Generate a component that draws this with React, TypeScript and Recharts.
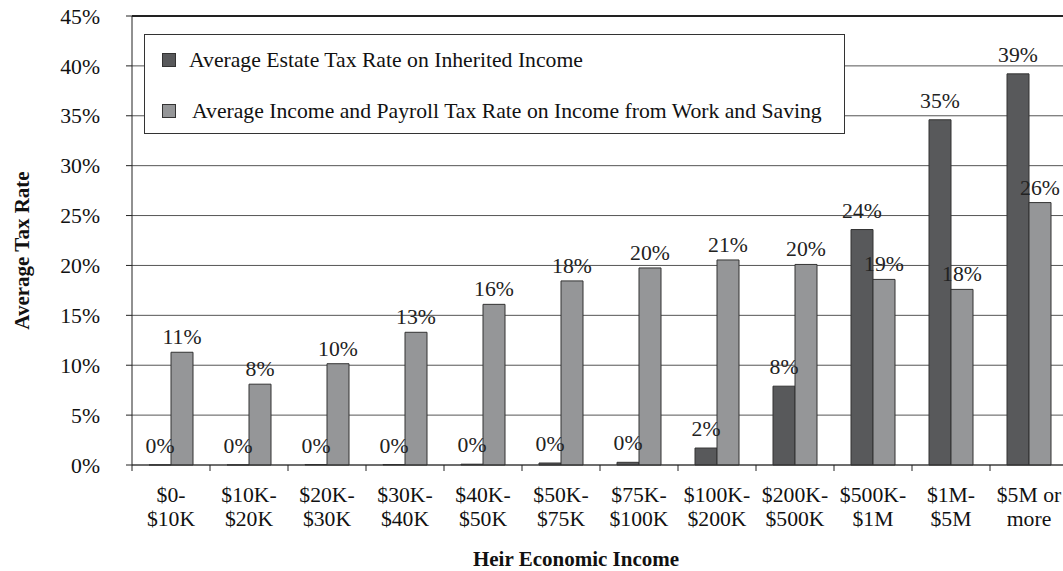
import { BarChart, Bar, XAxis, YAxis, CartesianGrid, LabelList, Legend, ReferenceLine } from 'recharts';

const categories = ['$0-$10K', '$10K-$20K', '$20K-$30K', '$30K-$40K', '$40K-$50K', '$50K-$75K', '$75K-$100K', '$100K-$200K', '$200K-$500K', '$500K-$1M', '$1M-$5M', '$5M or more'];
const tickLines = [['$0-', '$10K'], ['$10K-', '$20K'], ['$20K-', '$30K'], ['$30K-', '$40K'], ['$40K-', '$50K'], ['$50K-', '$75K'], ['$75K-', '$100K'], ['$100K-', '$200K'], ['$200K-', '$500K'], ['$500K-', '$1M'], ['$1M-', '$5M'], ['$5M or', 'more']];
const estateRate = [0.01, 0.01, 0.05, 0.05, 0.08, 0.2, 0.27, 1.7, 7.9, 23.6, 34.6, 39.2];
const incomeRate = [11.3, 8.1, 10.15, 13.3, 16.1, 18.45, 19.75, 20.55, 20.1, 18.6, 17.6, 26.3];
const yTicks = [0, 5, 10, 15, 20, 25, 30, 35, 40, 45];

const ESTATE = 'Average Estate Tax Rate on Inherited Income';
const INCOME = 'Average Income and Payroll Tax Rate on Income from Work and Saving';

const FONT = 21.7;

const data = categories.map((c, i) => ({ name: c, estate: estateRate[i], income: incomeRate[i] }));

const pct = (v: unknown) => `${Math.round(Number(v))}%`;

function CategoryTick(props: any) {
  const { x, y, payload, index } = props;
  const lines = tickLines[index] ?? [payload.value, ''];
  const left = x - (payload.offset ?? 0);
  return (
    <g>
      <line x1={left} x2={left} y1={y - 6} y2={y} stroke="#222" />
      <text x={x} y={y} textAnchor="middle" fill="#111" fontSize={FONT}>
        <tspan x={x} dy={31}>{lines[0]}</tspan>
        <tspan x={x} dy={24}>{lines[1]}</tspan>
      </text>
    </g>
  );
}

function LegendBox(props: any) {
  const items = props.payload ?? [];
  return (
    <div style={{ width: 701, height: 100, boxSizing: 'border-box', border: '1px solid #333', background: '#fff', position: 'relative' }}>
      {items.map((it: any, i: number) => (
        <div key={it.value} style={{ position: 'absolute', left: 17, top: i === 0 ? 13 : 64, height: 24, display: 'flex', alignItems: 'center', whiteSpace: 'nowrap' }}>
          <span style={{ width: 14, height: 14, boxSizing: 'border-box', border: '1px solid #333', background: it.color, display: 'inline-block' }} />
          <span style={{ marginLeft: i === 0 ? 13 : 16, fontSize: FONT, color: '#111' }}>{it.value}</span>
        </div>
      ))}
    </div>
  );
}

export default function App() {
  return (
    <div style={{ position: 'absolute', left: 0, top: 0, width: 1063, height: 571, overflow: 'hidden', background: '#fff', fontFamily: '"Liberation Serif", "Times New Roman", serif' }}>
      <BarChart width={1080} height={571} data={data} margin={{ top: 16, right: 12, bottom: 0, left: 0 }} barCategoryGap="21.8%" barGap={0}>
        <CartesianGrid vertical={false} stroke="#555" />
        <ReferenceLine y={45} stroke="#222" strokeWidth={2} />
        <XAxis dataKey="name" interval={0} height={106} tickLine={false} tickSize={6} tickMargin={0} tick={<CategoryTick />} axisLine={{ stroke: '#333' }}
          label={{
            content: ({ viewBox }: any) => (
              <text x={viewBox.x + viewBox.width / 2 - 24} y={viewBox.y + 101} textAnchor="middle" fontWeight="bold" fontSize={21} fill="#111">Heir Economic Income</text>
            ),
          }} />
        <YAxis domain={[0, 45]} ticks={yTicks} width={132} tickSize={6} tickMargin={26} tickFormatter={(v) => `${v}%`} tick={{ fill: '#111', fontSize: FONT }} axisLine={{ stroke: '#222' }} tickLine={{ stroke: '#222' }}
          label={{
            content: ({ viewBox }: any) => {
              const cx = viewBox.x + 22;
              const cy = viewBox.y + viewBox.height / 2 + 10;
              return (
                <text x={cx} y={cy} transform={`rotate(-90, ${cx}, ${cy})`} textAnchor="middle" dominantBaseline="central" fontWeight="bold" fontSize={21} fill="#111">Average Tax Rate</text>
              );
            },
          }} />
        <Legend layout="horizontal" verticalAlign="middle" content={<LegendBox />} wrapperStyle={{ left: 144, top: 34, width: 701, height: 100 }} />
        <Bar dataKey="estate" name={ESTATE} fill="#58595b" stroke="#333" isAnimationActive={false}>
          <LabelList dataKey="estate" position="top" offset={12} formatter={pct} fill="#222" fontSize={FONT} />
        </Bar>
        <Bar dataKey="income" name={INCOME} fill="#959698" stroke="#333" isAnimationActive={false}>
          <LabelList dataKey="income" position="top" offset={8} formatter={pct} fill="#222" fontSize={FONT} />
        </Bar>
      </BarChart>
    </div>
  );
}
